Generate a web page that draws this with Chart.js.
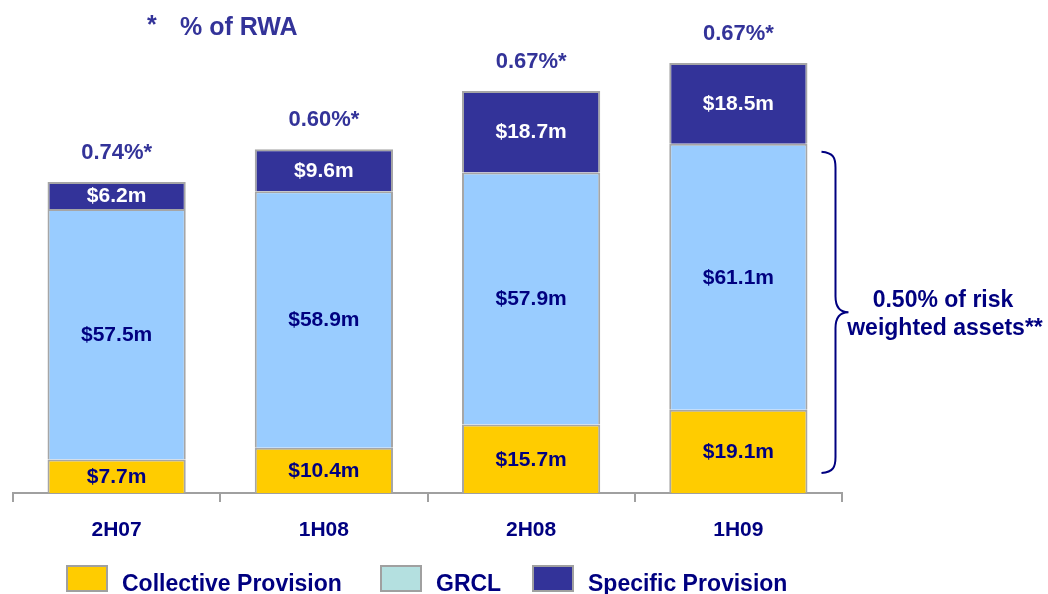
<!DOCTYPE html>
<html>
<head>
<meta charset="utf-8">
<script src="https://cdn.jsdelivr.net/npm/chart.js@4/dist/chart.umd.min.js"></script>
<style>
  body { margin: 0; background: #fff; }
  #wrap { width: 1048px; height: 594px; }
</style>
</head>
<body>
<div id="wrap"><canvas id="provChart" width="1048" height="594"></canvas></div>
<script>
// data
const periods = ['2H07', '1H08', '2H08', '1H09'];
const collective = [7.7, 10.4, 15.7, 19.1];
const grcl = [57.5, 58.9, 57.9, 61.1];
const specific = [6.2, 9.6, 18.7, 18.5];
const rwaLabels = ['0.74%*', '0.60%*', '0.67%*', '0.67%*'];
const seriesNames = ['Collective Provision', 'GRCL', 'Specific Provision'];

const NAVY = '#000080';
const PURPLE = '#333399';
const FONT = '"Liberation Sans", Arial, sans-serif';

// labels inside each segment + % labels on top
const valueLabels = {
  id: 'valueLabels',
  afterDatasetsDraw(chart) {
    const ctx = chart.ctx;
    ctx.save();
    ctx.textAlign = 'center';
    ctx.textBaseline = 'middle';
    ctx.font = 'bold 21px ' + FONT;
    chart.data.datasets.forEach((ds, di) => {
      const meta = chart.getDatasetMeta(di);
      meta.data.forEach((bar, i) => {
        ctx.fillStyle = di === 2 ? '#ffffff' : NAVY;
        ctx.fillText('$' + ds.data[i].toFixed(1) + 'm', bar.x, (bar.y + bar.base) / 2 + 1);
      });
    });
    const top = chart.getDatasetMeta(2);
    ctx.fillStyle = PURPLE;
    ctx.font = 'bold 22px ' + FONT;
    top.data.forEach((bar, i) => {
      ctx.fillText(rwaLabels[i], bar.x, bar.y - 29);
    });
    ctx.restore();
  }
};

// title, brace note and legend
const extras = {
  id: 'extras',
  afterDraw(chart) {
    const ctx = chart.ctx;
    const y = chart.scales.y;
    ctx.save();

    // title
    ctx.fillStyle = PURPLE;
    ctx.font = 'bold 25px ' + FONT;
    ctx.textBaseline = 'middle';
    ctx.textAlign = 'left';
    ctx.fillText('*', 147, 26);
    ctx.fillText('% of RWA', 180, 28);

    // curly brace next to last bar
    const last = chart.getDatasetMeta(1).data[3];
    const x0 = last.x + last.width / 2 + 14;
    const xm = x0 + 14;
    const xt = x0 + 27;
    const yTop = y.getPixelForValue(collective[3] + grcl[3]) + 8;
    const yBot = y.getPixelForValue(0) - 20;
    const yMid = (yTop + yBot) / 2;
    ctx.strokeStyle = NAVY;
    ctx.lineWidth = 2;
    ctx.beginPath();
    ctx.moveTo(x0, yTop);
    ctx.bezierCurveTo(xm - 2, yTop + 1, xm, yTop + 6, xm, yTop + 16);
    ctx.lineTo(xm, yMid - 16);
    ctx.bezierCurveTo(xm, yMid - 4, xm + 6, yMid, xt, yMid);
    ctx.bezierCurveTo(xm + 6, yMid, xm, yMid + 4, xm, yMid + 16);
    ctx.lineTo(xm, yBot - 16);
    ctx.bezierCurveTo(xm, yBot - 6, xm - 2, yBot - 1, x0, yBot);
    ctx.stroke();

    ctx.fillStyle = NAVY;
    ctx.font = 'bold 23px ' + FONT;
    ctx.textAlign = 'center';
    ctx.fillText('0.50% of risk', 943, yMid - 12);
    ctx.fillText('weighted assets**', 945, yMid + 16);

    // legend
    const legendX = [67, 381, 533];
    const legendColors = ['#FFCC00', '#B4E0E0', '#333399'];
    ctx.textAlign = 'left';
    seriesNames.forEach((name, i) => {
      ctx.fillStyle = legendColors[i];
      ctx.fillRect(legendX[i], 566, 40, 25);
      ctx.strokeStyle = '#a0a0a0';
      ctx.lineWidth = 2;
      ctx.strokeRect(legendX[i], 566, 40, 25);
      ctx.fillStyle = NAVY;
      ctx.fillText(name, legendX[i] + 55, 585);
    });
    ctx.restore();
  }
};

new Chart(document.getElementById('provChart'), {
  type: 'bar',
  data: {
    labels: periods,
    datasets: [
      { label: seriesNames[0], data: collective, backgroundColor: '#FFCC00' },
      { label: seriesNames[1], data: grcl, backgroundColor: '#99CCFF' },
      { label: seriesNames[2], data: specific, backgroundColor: '#333399' }
    ].map(d => Object.assign(d, {
      borderColor: '#a6a6a6',
      borderWidth: 2,
      categoryPercentage: 1,
      barPercentage: 0.667
    }))
  },
  options: {
    responsive: false,
    animation: false,
    layout: { padding: { left: 13, right: 206, top: 40, bottom: 0 } },
    plugins: {
      legend: { display: false },
      tooltip: { enabled: false }
    },
    scales: {
      x: {
        stacked: true,
        grid: { drawOnChartArea: false, tickLength: 9, color: '#a0a0a0', lineWidth: 2 },
        border: { color: '#a0a0a0', width: 2 },
        ticks: { color: NAVY, font: { family: FONT, size: 21, weight: 'bold' }, padding: 16 },
        afterFit: s => { s.height = 101; }
      },
      y: {
        stacked: true,
        display: false,
        min: 0,
        max: 104
      }
    }
  },
  plugins: [valueLabels, extras]
});
</script>
</body>
</html>
